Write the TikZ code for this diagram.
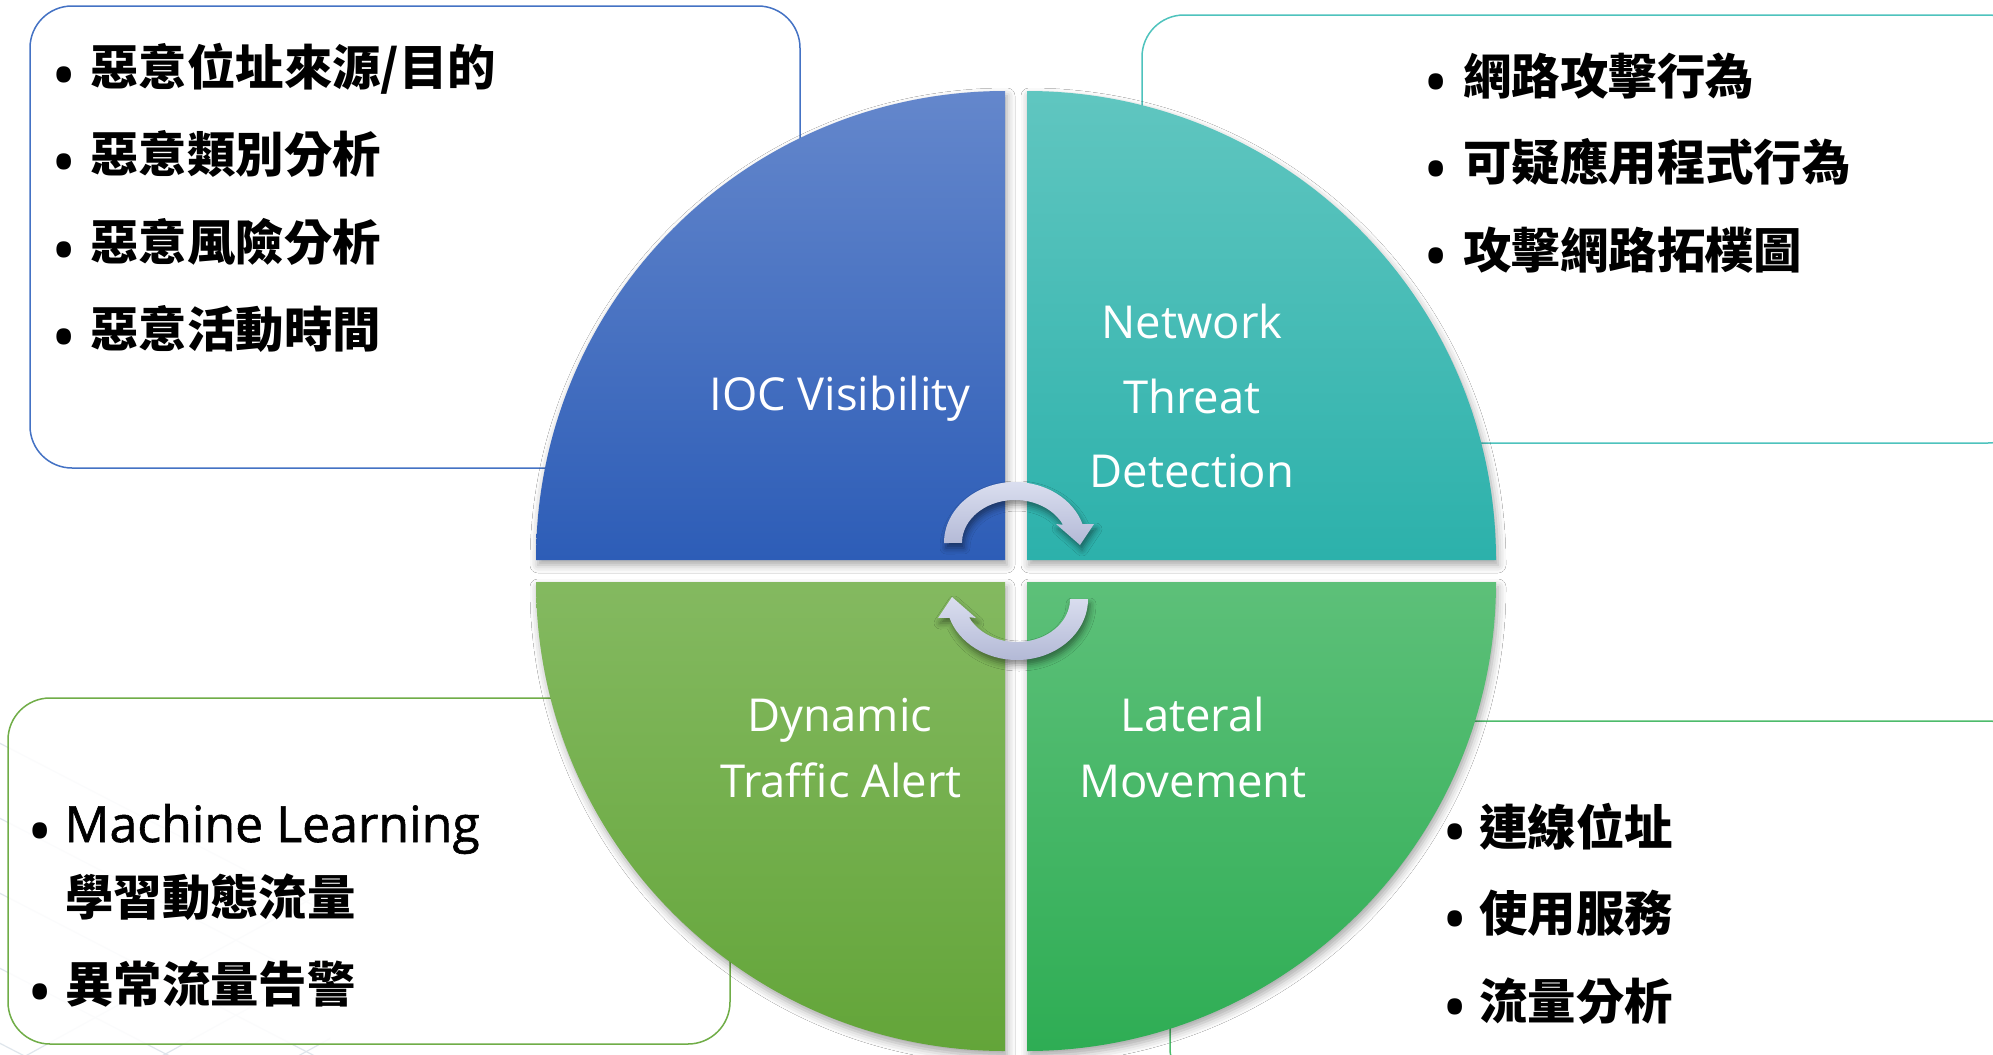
\documentclass[tikz,border=0pt]{standalone}
\usepackage{fontspec}
\setmainfont{Open Sans}
\newfontfamily\cjk{Noto Sans CJK TC}
\newfontfamily\mlfont{Open Sans}[FakeBold=1.2]
\usetikzlibrary{shadows.blur}

% quadrant gradients
\definecolor{iocTop}{HTML}{6487CC}
\definecolor{iocBot}{HTML}{2D5DB7}
\definecolor{ntdTop}{HTML}{60C6C0}
\definecolor{ntdBot}{HTML}{2CB1AB}
\definecolor{dtaTop}{HTML}{84B960}
\definecolor{dtaBot}{HTML}{63A539}
\definecolor{lmTop}{HTML}{5DC079}
\definecolor{lmBot}{HTML}{2EAD54}
% box outlines
\definecolor{iocLine}{HTML}{4472C4}
\definecolor{ntdLine}{HTML}{4EC3BD}
\definecolor{dtaLine}{HTML}{70AD47}
\definecolor{lmLine}{HTML}{4DBB6B}
% cycle arrows and backdrop
\definecolor{arrTop}{HTML}{DADEEF}
\definecolor{arrBot}{HTML}{B3B9D6}
\definecolor{gridLine}{HTML}{DFE6EC}

\begin{document}
\begin{tikzpicture}[x=0.5pt,y=-0.5pt,
  infobox/.style={line width=0.75pt, fill=white, fill opacity=0.88, rounded corners=21pt},
  quadrant/.style={blur shadow={shadow xshift=1pt, shadow yshift=-2.5pt,
      shadow blur radius=4pt, shadow opacity=35}},
  cyclearrow/.style={top color=arrTop, bottom color=arrBot,
      blur shadow={shadow xshift=1pt, shadow yshift=-2.5pt,
      shadow blur radius=3pt, shadow opacity=45}},
  quadlabel/.style={text=white, inner sep=0pt, anchor=base,
      font=\fontsize{22.7}{27}\selectfont},
  item/.style={anchor=base west, inner sep=0pt,
      font=\cjk\bfseries\fontsize{24.2}{29}\selectfont},
  bullet/.style={inner sep=0pt, font=\fontsize{33.7}{40}\selectfont}
]
\useasboundingbox (0,0) rectangle (1993,1055);
\fill[white] (0,0) rectangle (1993,1055);

% faint grid texture in the lower-left corner
\begin{scope}
  \clip (0,720) rectangle (330,1055);
  \foreach \k in {0,...,6} {
    \draw[gridLine, line width=0.6pt] (-200,640+\k*75) -- (400,950+\k*75);
    \draw[gridLine, line width=0.6pt] (-200,1180+\k*75) -- (400,850+\k*75);
  }
\end{scope}

% information boxes
\draw[infobox, draw=iocLine] (30,6) rectangle (800,468);
\draw[infobox, draw=ntdLine] (1142,15) rectangle (2030,443);
\draw[infobox, draw=dtaLine] (8,698) rectangle (730,1044);
\draw[infobox, draw=lmLine]  (1170,721) rectangle (2030,1090);

% four quadrants
\path[quadrant, top color=iocTop, bottom color=iocBot]
  (1005,560) -- (536,560) arc[start angle=180, end angle=270, radius=469] -- cycle;
\path[quadrant, top color=ntdTop, bottom color=ntdBot]
  (1027,560) -- (1027,91) arc[start angle=270, end angle=360, radius=469] -- cycle;
\path[quadrant, top color=dtaTop, bottom color=dtaBot]
  (1005,582) -- (1005,1051) arc[start angle=90, end angle=180, radius=469] -- cycle;
\path[quadrant, top color=lmTop, bottom color=lmBot]
  (1027,582) -- (1496,582) arc[start angle=0, end angle=90, radius=469] -- cycle;

% cycle arrows
\path[cyclearrow]
  (944,543) arc[start angle=180, end angle=342, x radius=71, y radius=61]
  -- (1094,524) -- (1080,545) -- (1056,524) -- (1063,524.8)
  arc[start angle=335, end angle=180, x radius=53, y radius=43] -- cycle;
\path[cyclearrow]
  (1088,599) arc[start angle=0, end angle=162, x radius=71, y radius=61]
  -- (938,618) -- (952,597) -- (976,618) -- (969,617.2)
  arc[start angle=155, end angle=0, x radius=53, y radius=43] -- cycle;

% quadrant labels
\node[quadlabel] (ioc) at (840,410) {IOC Visibility};
\node[quadlabel] (ntd1) at (1192,338) {Network};
\node[quadlabel] (ntd2) at (1192,413) {Threat};
\node[quadlabel] (ntd3) at (1192,487) {Detection};
\node[quadlabel] (dta1) at (840,731) {Dynamic};
\node[quadlabel] (dta2) at (841,797) {Traffic Alert};
\node[quadlabel] (lm1) at (1193,731) {Lateral};
\node[quadlabel] (lm2) at (1193,797) {Movement};

% IOC details
\node[bullet] (b11) at (64,83) {•};
\node[item] (t11) at (90,85) {惡意位址來源/目的};
\node[bullet] (b12) at (64,170) {•};
\node[item] (t12) at (90,172) {惡意類別分析};
\node[bullet] (b13) at (64,258) {•};
\node[item] (t13) at (90,260) {惡意風險分析};
\node[bullet] (b14) at (64,345) {•};
\node[item] (t14) at (90,347) {惡意活動時間};

% network threat details
\node[bullet] (b21) at (1436,90) {•};
\node[item] (t21) at (1463,94) {網路攻擊行為};
\node[bullet] (b22) at (1436,177) {•};
\node[item] (t22) at (1463,180) {可疑應用程式行為};
\node[bullet] (b23) at (1436,264) {•};
\node[item] (t23) at (1463,268) {攻擊網路拓樸圖};

% lateral movement details
\node[bullet] (b31) at (1455,840) {•};
\node[item] (t31) at (1479,845) {連線位址};
\node[bullet] (b32) at (1455,927) {•};
\node[item] (t32) at (1479,931) {使用服務};
\node[bullet] (b33) at (1455,1015) {•};
\node[item] (t33) at (1479,1019) {流量分析};

% dynamic traffic details
\node[bullet] (b41) at (40,839) {•};
\node[anchor=base west, inner sep=0pt, font=\mlfont\fontsize{25}{30}\selectfont] (t41) at (64,842) {Machine Learning};
\node[item] (t42) at (65,915) {學習動態流量};
\node[bullet] (b43) at (40,1000) {•};
\node[item] (t43) at (65,1002) {異常流量告警};
\end{tikzpicture}
\end{document}
